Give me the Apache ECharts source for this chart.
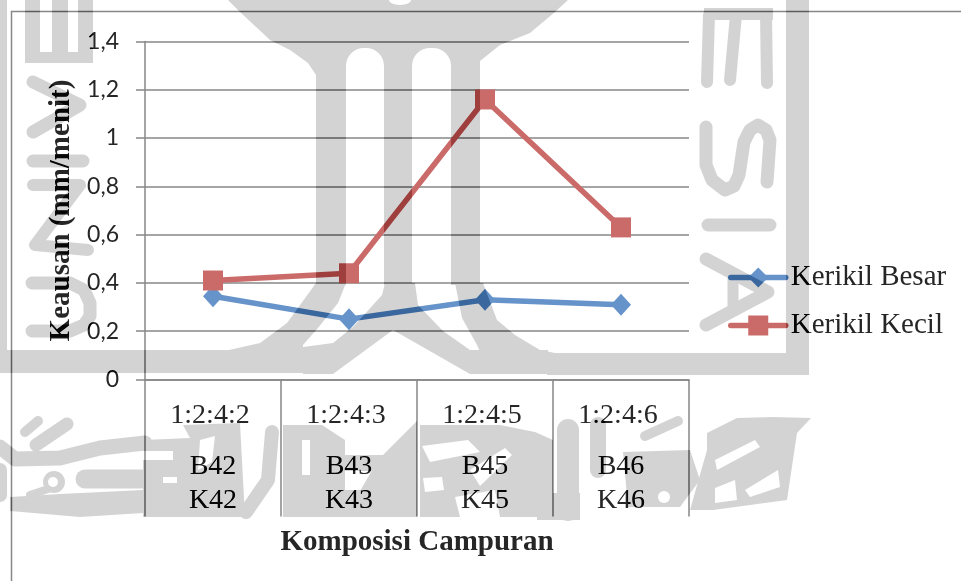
<!DOCTYPE html>
<html>
<head>
<meta charset="utf-8">
<style>html,body{margin:0;padding:0;background:#fff}#c{width:961px;height:581px}</style>
<script src="https://cdn.jsdelivr.net/npm/echarts@6/dist/echarts.min.js"></script>
</head>
<body>
<div id="c"></div>
<script>
// Wear rate per mix composition, for coarse and fine gravel
const mixRatios = ['1:2:4:2', '1:2:4:3', '1:2:4:5', '1:2:4:6'];
const coarseCodes = ['B42', 'B43', 'B45', 'B46'];
const fineCodes = ['K42', 'K43', 'K45', 'K46'];
const kerikilBesar = [0.345, 0.25, 0.33, 0.31];
const kerikilKecil = [0.41, 0.44, 1.16, 0.63];
const categories = mixRatios.map((r, i) => r + '|' + coarseCodes[i] + '|' + fineCodes[i]);

const serif = '"Liberation Serif", "Times New Roman", serif';
const ink = '#262626';
const rule = '#878787';

// Crest printed behind the page, painted once into a canvas
function paintCrest() {
  const cv = document.createElement('canvas');
  cv.width = 961; cv.height = 581;
  const g = cv.getContext('2d');
  g.fillStyle = g.strokeStyle = '#2c2c2c';
  g.lineCap = g.lineJoin = 'round';
  const poly = pts => {
    g.beginPath();
    pts.forEach((p, i) => i ? g.lineTo(p[0], p[1]) : g.moveTo(p[0], p[1]));
    g.closePath();
    g.fill();
  };
  const line = (w, pts) => {
    g.lineWidth = w;
    g.beginPath();
    pts.forEach((p, i) => i ? g.lineTo(p[0], p[1]) : g.moveTo(p[0], p[1]));
    g.stroke();
  };
  const cut = draw => {
    g.globalCompositeOperation = 'destination-out';
    draw();
    g.globalCompositeOperation = 'source-over';
  };

  // Outer frame bars
  g.fillRect(0, 0, 7, 350);
  g.fillRect(0, 350, 548, 23);
  g.fillRect(547, 353, 262, 22);
  g.fillRect(786, 0, 23, 375);

  // Dome and three columns
  poly([[228,0],[568,0],[555,12],[530,33],[500,45],[480,61],[480,285],[316,285],[316,75],[308,63],[290,50],[270,40],[240,12]]);
  cut(() => {
    g.beginPath(); g.ellipse(400, 0, 11, 5, 0, 0, Math.PI * 2); g.fill();
    g.beginPath(); g.roundRect(346, 48, 38, 240, [18, 18, 0, 0]); g.fill();
    g.beginPath(); g.roundRect(412, 48, 39, 240, [18, 18, 0, 0]); g.fill();
  });

  // Columns sweeping down into the base
  poly([[316,283],[346,283],[338,303],[318,328],[303,345],[303,352],[220,352],[260,343],[287,323]]);
  poly([[385,283],[415,283],[418,305],[443,331],[470,350],[480,374],[303,374],[303,347],[333,343],[353,327],[382,295]]);
  poly([[455,283],[483,283],[497,320],[515,335],[540,350],[560,354],[560,374],[470,374],[480,352],[477,345],[462,318]]);
  cut(() => poly([[333,374],[393,330],[470,374]]));

  // Lettering down the left edge
  g.fillRect(25, 52, 68, 11);
  g.fillRect(25, 0, 15, 55); g.fillRect(52, 0, 16, 55); g.fillRect(78, 0, 15, 55);
  line(13, [[33,82],[80,105],[33,132]]);
  line(13, [[33,161],[83,161]]);
  line(12, [[33,185],[80,185],[35,245],[88,250]]);
  line(13, [[32,283],[70,283],[84,290],[90,303],[90,316],[84,325],[70,331],[32,331]]);

  // Lettering down the right edge
  g.fillRect(704, 8, 69, 12);
  line(12, [[709,15],[707,82]]); line(12, [[736,15],[730,80]]); line(12, [[766,15],[767,83]]);
  line(13, [[706,127],[706,165],[712,180],[725,190],[734,186],[739,175],[744,142],[750,130],[758,125],[766,130],[770,140],[767,182]]);
  line(13, [[708,225],[770,225]]);
  line(13, [[706,259],[768,292],[706,325]]);
  line(11, [[733,275],[733,310]]);

  // Calligraphy along the bottom, left part
  line(10, [[25,432],[38,421]]);
  line(13, [[36,445],[67,424]]);
  line(15, [[0,447],[15,459],[60,458],[100,448],[145,443]]);
  line(19, [[85,479],[145,479]]);
  poly([[10,497],[60,494],[143,490],[143,513],[80,517],[10,511]]);
  line(8, [[30,495],[60,485]]);
  g.beginPath(); g.arc(54, 482, 11, 0, Math.PI * 2); g.fill();
  line(14, [[0,470],[0,495]]);
  poly([[143,440],[190,438],[183,425],[240,423],[245,517],[143,517]]);
  cut(() => {
    g.beginPath(); g.arc(53, 482, 5, 0, Math.PI * 2); g.fill();
    g.fillRect(143, 451, 30, 9);
    g.fillRect(163, 477, 14, 6);
    poly([[200,440],[215,436],[212,462],[198,470]]);
  });

  // Middle part
  line(14, [[272,432],[268,480],[246,512]]);
  poly([[283,425],[322,425],[345,440],[345,490],[400,490],[400,517],[283,517]]);
  cut(() => {
    poly([[302,440],[310,440],[310,475],[302,475]]);
    poly([[370,488],[390,488],[390,497],[370,497]]);
    poly([[345,440],[345,490],[352,490],[352,440]]);
  });
  line(16, [[340,463],[395,463]]);
  poly([[417,421],[417,517],[345,517],[378,460]]);

  // Right-hand strokes
  poly([[420,425],[500,425],[535,432],[553,440],[553,517],[500,517],[420,517]]);
  cut(() => {
    poly([[422,446],[468,440],[480,452],[430,462]]);
    poly([[423,478],[442,477],[444,490],[425,492]]);
    poly([[470,470],[505,448],[512,455],[480,486]]);
    poly([[455,497],[495,490],[500,517],[460,517]]);
  });
  g.fillRect(537, 493, 43, 27);
  line(22, [[568,430],[568,510]]);
  line(10, [[645,436],[678,421]]);
  line(16, [[598,425],[598,470]]);
  poly([[623,452],[690,450],[700,480],[680,507],[628,507]]);
  cut(() => { g.beginPath(); g.arc(664, 497, 6, 0, Math.PI * 2); g.fill(); });

  // Leaf at the far right
  poly([[707,433],[737,418],[773,417],[811,418],[797,433],[787,500],[713,510],[690,510],[707,450]]);
  cut(() => {
    poly([[715,460],[755,440],[760,447],[717,470]]);
    poly([[715,488],[735,480],[737,500],[715,503]]);
    poly([[745,490],[778,470],[780,487],[750,497]]);
  });
  return cv;
}

const chart = echarts.init(document.getElementById('c'), null, { renderer: 'canvas' });
chart.setOption({
  animation: false,
  backgroundColor: '#ffffff',
  grid: { left: 145, right: 272, top: 41.5, bottom: 201.5, containLabel: false },
  legend: {
    orient: 'vertical',
    left: 728,
    top: 263,
    padding: 0,
    itemWidth: 55,
    itemHeight: 25,
    itemGap: 19,
    data: ['Kerikil Besar', 'Kerikil Kecil'],
    lineStyle: { width: 5.5, cap: 'round' },
    textStyle: { fontFamily: serif, fontSize: 29, color: ink }
  },
  xAxis: {
    type: 'category',
    data: categories,
    boundaryGap: true,
    name: 'Komposisi Campuran',
    nameLocation: 'middle',
    nameGap: 149,
    nameTextStyle: { fontFamily: serif, fontSize: 29, fontWeight: 'bold', color: ink },
    axisLine: { onZero: true, lineStyle: { color: rule, width: 1.5 } },
    axisTick: { show: true, length: 137, alignWithLabel: false, lineStyle: { color: rule, width: 1.5 } },
    axisLabel: {
      margin: 19,
      interval: 0,
      formatter: v => {
        const [r, b, k] = v.split('|');
        return '{a|' + r + '}\n{g|}\n{b|' + b + '}\n{b|' + k + '}';
      },
      rich: {
        a: { fontFamily: serif, fontSize: 28, lineHeight: 34, color: ink, padding: [0, 6, 0, 0] },
        g: { lineHeight: 17, fontSize: 10 },
        b: { fontFamily: serif, fontSize: 28, lineHeight: 34, color: ink }
      }
    },
    splitLine: { show: false }
  },
  yAxis: {
    type: 'value',
    min: 0,
    max: 1.4,
    interval: 0.2,
    name: 'Keausan (mm/menit)',
    nameLocation: 'middle',
    nameGap: 63,
    nameRotate: 90,
    nameTextStyle: { fontFamily: serif, fontSize: 29, fontWeight: 'bold', color: ink },
    axisLine: { show: true, lineStyle: { color: rule, width: 1.5 } },
    axisTick: { show: true, length: 9, lineStyle: { color: rule, width: 1.5 } },
    axisLabel: {
      margin: 26,
      fontFamily: 'Lato, "Open Sans", sans-serif',
      fontSize: 23,
      color: ink,
      formatter: v => String(+v.toFixed(1)).replace('.', ',')
    },
    splitLine: { show: true, lineStyle: { color: rule, width: 1.5 } }
  },
  series: [
    {
      name: 'Kerikil Besar',
      type: 'line',
      data: kerikilBesar,
      symbol: 'diamond',
      symbolSize: [20, 22],
      showSymbol: true,
      lineStyle: { color: '#6593CA', width: 5.5, cap: 'round' },
      itemStyle: { color: '#6593CA', borderWidth: 0 }
    },
    {
      name: 'Kerikil Kecil',
      type: 'line',
      data: kerikilKecil,
      symbol: 'rect',
      symbolSize: 20,
      showSymbol: true,
      lineStyle: { color: '#CA6B69', width: 5.5, cap: 'round' },
      itemStyle: { color: '#CA6B69', borderWidth: 0 }
    }
  ],
  graphic: {
    elements: [
      {
        type: 'polyline',
        silent: true,
        z: 1,
        shape: { points: [[11.5, 581], [11.5, 11.5], [961, 11.5]] },
        style: { stroke: rule, lineWidth: 1.5, fill: null }
      },
      {
        type: 'image',
        silent: true,
        z: 100,
        style: { image: paintCrest(), x: 0, y: 0, width: 961, height: 581, blend: 'difference' }
      }
    ]
  }
});
</script>
</body>
</html>
